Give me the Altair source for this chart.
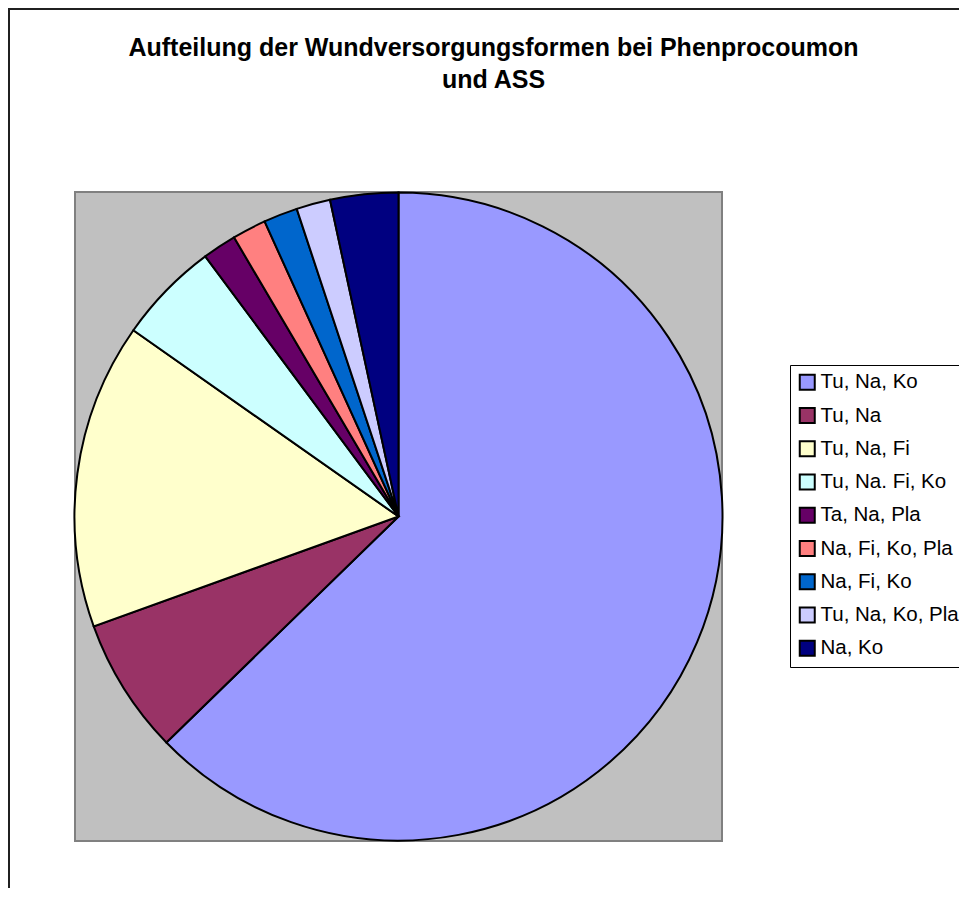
import altair as alt
import pandas as pd

categories = ["Tu, Na, Ko", "Tu, Na", "Tu, Na, Fi", "Tu, Na. Fi, Ko", "Ta, Na, Pla",
              "Na, Fi, Ko, Pla", "Na, Fi, Ko", "Tu, Na, Ko, Pla", "Na, Ko"]
values = [37, 4, 9, 3, 1, 1, 1, 1, 2]
colors = ["#9999FF", "#993366", "#FFFFCC", "#CCFFFF", "#660066",
          "#FF8080", "#0066CC", "#CCCCFF", "#000080"]
title_lines = ["Aufteilung der Wundversorgungsformen bei Phenprocoumon", "und ASS"]

df = pd.DataFrame({"Form": categories, "Anzahl": values, "idx": list(range(len(categories)))})

FONT = "Liberation Sans"
W, H = 647, 649

pie = alt.Chart(df).mark_arc(outerRadius=324, stroke="black", strokeWidth=2).encode(
    theta=alt.Theta("Anzahl:Q", stack=True),
    order=alt.Order("idx:Q", sort="ascending"),
    color=alt.Color(
        "Form:N",
        scale=alt.Scale(domain=categories, range=colors),
        legend=alt.Legend(
            title=None,
            orient="none",
            legendX=715,
            legendY=173,
            symbolType="square",
            symbolSize=225,
            symbolStrokeColor="black",
            symbolStrokeWidth=2,
            symbolOpacity=1,
            labelFont=FONT,
            labelFontSize=20.5,
            labelColor="black",
            labelOffset=3,
            labelLimit=400,
            rowPadding=9.25,
            padding=7,
            strokeColor="black",
            fillColor="white",
        ),
    ),
)

panel = alt.Chart(alt.Data(values=[{}])).mark_rect(
    fill="#C0C0C0", stroke="#808080", strokeWidth=2
).encode(
    x=alt.value(0), y=alt.value(0), x2=alt.value(W), y2=alt.value(H)
)

frame = alt.Chart(alt.Data(values=[{}])).mark_rect(
    fill="transparent", stroke="#202020", strokeWidth=2
).encode(
    x=alt.value(-66), y=alt.value(-183), x2=alt.value(3000), y2=alt.value(3000)
)

chart = alt.layer(frame, panel, pie).properties(
    width=W,
    height=H,
    title=alt.Title(
        title_lines,
        font=FONT,
        fontSize=25,
        fontWeight="bold",
        color="black",
        anchor="middle",
        dx=95,
        offset=-85,
        lineHeight=32,
    ),
    autosize=alt.AutoSizeParams(type="none"),
    padding={"left": 67, "top": 184, "right": 237, "bottom": 47},
    background="white",
).configure_view(
    stroke=None
)

chart.save("out.html", embed_options={"renderer": "svg", "actions": False})
